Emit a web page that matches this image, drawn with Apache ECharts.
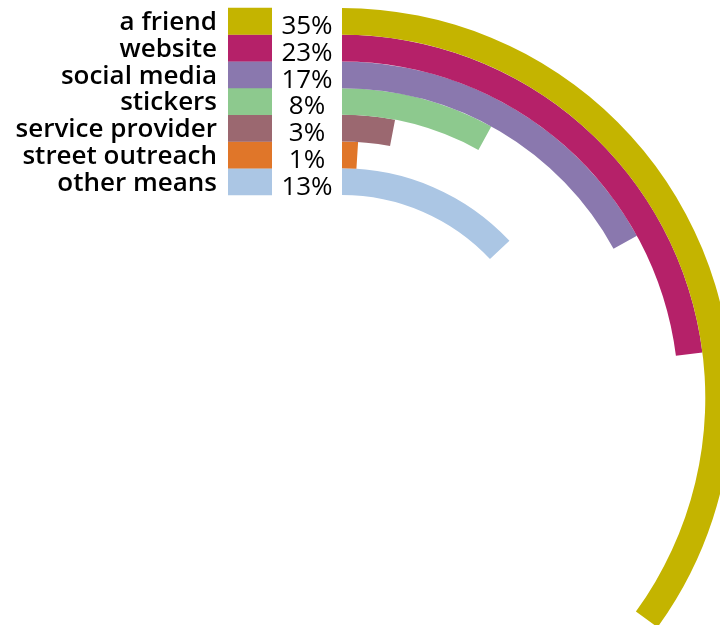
<!DOCTYPE html>
<html>
<head>
<meta charset="utf-8">
<script src="https://cdn.jsdelivr.net/npm/echarts@6/dist/echarts.min.js"></script>
<style>
  html, body { margin: 0; padding: 0; background: #fff; }
  #chart { width: 720px; height: 625px; }
</style>
</head>
<body>
<div id="chart"></div>
<script>
// How people heard about us, share of responses (%), listed innermost ring first
const categories = ['other means', 'street outreach', 'service provider', 'stickers', 'social media', 'website', 'a friend'];
const shares = [13, 1, 3, 8, 17, 23, 35];
const colors = ['#abc6e4', '#e07629', '#9b6870', '#8dc98e', '#8a78ae', '#b52169', '#c4b400'];

// Legend row: name, colour swatch, percentage (padding-top nudges text down inside the row)
const rich = {
  name: { fontFamily: 'Open Sans', fontSize: 26, fontWeight: 600, color: '#000', padding: [3, 11, 0, 0], height: 27, lineHeight: 27 },
  pct: { fontFamily: 'Open Sans', fontSize: 26, fontWeight: 400, color: '#000', align: 'center', width: 70, padding: [11, 0, 0, 0], height: 27, lineHeight: 27 }
};
colors.forEach(function (c, i) {
  rich['sw' + i] = { backgroundColor: c, width: 44, height: 27, lineHeight: 27 };
});

const chart = echarts.init(document.getElementById('chart'), null, { renderer: 'canvas' });
chart.setOption({
  animation: false,
  polar: { center: [342, 398], radius: [203, 390] },
  angleAxis: {
    type: 'value', min: 0, max: 100, startAngle: 90, clockwise: true,
    axisLine: { show: false }, axisTick: { show: false }, axisLabel: { show: false }, splitLine: { show: false }
  },
  radiusAxis: {
    type: 'category',
    data: categories,
    axisLine: { show: false }, axisTick: { show: false }, splitLine: { show: false },
    axisLabel: {
      margin: 0,
      interval: 0,
      rich: rich,
      formatter: function (value, index) {
        return '{name|' + value + '}{sw' + index + '|}{pct|' + shares[index] + '%}';
      }
    }
  },
  series: [{
    type: 'bar',
    coordinateSystem: 'polar',
    barCategoryGap: '0%',
    data: shares.map(function (v, i) { return { value: v, itemStyle: { color: colors[i] } }; })
  }]
});
</script>
</body>
</html>
